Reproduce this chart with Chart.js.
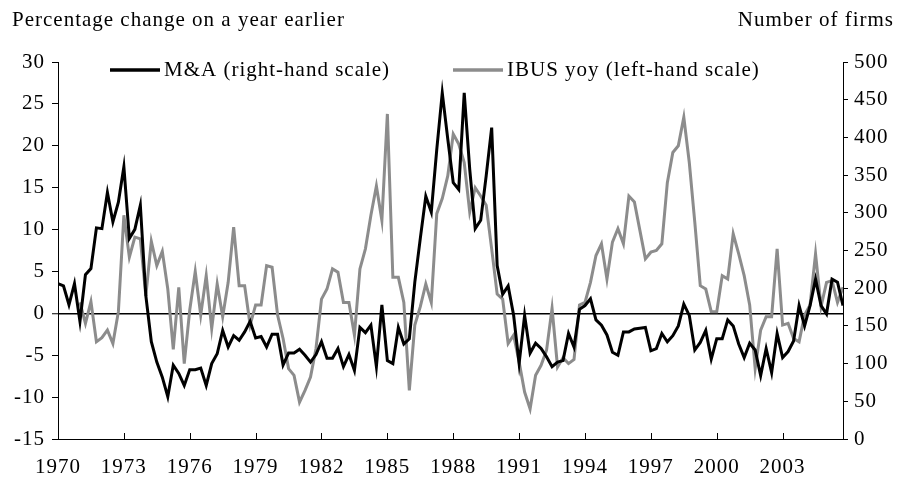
<!DOCTYPE html>
<html><head><meta charset="utf-8">
<script src="https://cdn.jsdelivr.net/npm/chart.js@4.4.1/dist/chart.umd.min.js"></script>
<style>html,body{margin:0;padding:0;background:#fff}#wrap{width:898px;height:487px}</style>
</head><body><div id="wrap"><canvas id="c" width="898" height="487"></canvas></div>
<script>
const startYear = 1970;
const quarters = 144; // 1970Q1 - 2005Q4
const xTickYears = [1970,1973,1976,1979,1982,1985,1988,1991,1994,1997,2000,2003];
const leftTicks = {min:-15, max:30, step:5};
const rightTicks = {min:0, max:500, step:50};

// M&A, number of firms (right-hand scale)
const maFirms = [
206,203,178,206,156,218,226,280,279,327,288,314,361,266,278,310,
190,129,102,82,56,98,87,71,92,92,94,71,100,113,144,122,
137,131,142,156,134,136,122,139,139,98,114,114,119,111,
102,112,129,107,107,120,96,112,91,148,141,151,96,178,104,100,
148,126,133,208,266,322,301,384,459,398,340,331,459,358,279,290,
349,413,230,192,203,164,100,164,114,127,120,109,96,102,104,140,
122,172,177,186,158,151,138,115,111,142,142,146,147,148,117,120,
140,129,137,150,179,164,118,128,144,106,133,133,158,150,126,108,
127,118,84,120,88,140,108,116,130,177,150,177,212,177,166,212,208,177
];

// IBUS, percentage change on a year earlier (left-hand scale)
const ibusYoy = [
null,null,null,null,1.3,-1.2,1.4,-3.4,-2.9,-2.0,-3.6,0.2,11.7,6.7,9.1,8.9,
2.1,8.6,5.7,7.4,2.9,-4.3,3.1,-6.0,0.4,5.0,-0.2,4.5,-1.8,3.5,-0.4,3.7,
10.3,3.3,3.3,-1.4,1.0,1.0,5.7,5.5,-0.2,-3.0,-6.6,-7.4,-10.6,-9.2,-7.6,-4.2,
1.7,2.9,5.3,4.9,1.3,1.3,-2.6,5.3,7.7,11.7,15.2,11.1,23.8,4.3,4.3,1.3,
-9.2,-1.4,0.8,3.5,1.3,11.9,13.7,16.4,21.4,20.2,18.0,12.1,15.0,14.0,12.9,7.7,
2.3,1.7,-3.6,-2.6,-5.8,-9.4,-11.4,-7.4,-6.2,-4.4,0.6,-6.4,-5.3,-6.0,-5.5,1.0,
1.3,3.7,6.9,8.3,4.1,8.5,10.1,8.3,14.0,13.3,9.9,6.5,7.3,7.5,8.3,15.6,
19.2,20.0,23.4,18.0,10.9,3.3,2.9,0.2,0.2,4.5,4.1,9.5,7.1,4.5,1.0,-6.6,
-2.0,-0.4,-0.4,7.7,-1.4,-1.2,-3.0,-3.4,-0.2,1.0,7.1,0.8,3.7,3.9,1.3,3.1
];

const seriesNames = ['M&A (right-hand scale)', 'IBUS yoy (left-hand scale)'];
const leftTitle = 'Percentage change on a year earlier';
const rightTitle = 'Number of firms';

const FONT = 'Liberation Serif, Times New Roman, serif';
const FS = 21;
const LS = '1px';

const toXY = arr => arr.map((v,i)=>({x:i, y:v}));

const xTickValues = xTickYears.map(y => (y - startYear) * 4);

const spacing = {
  id:'spacing',
  beforeDraw(chart){ chart.ctx.letterSpacing = LS; }
};

const overlay = {
  id:'overlay',
  afterDraw(chart){
    const ctx = chart.ctx, xs = chart.scales.x, ca = chart.chartArea;
    ctx.save();
    ctx.letterSpacing = LS;
    // inward tick marks on the x axis
    ctx.strokeStyle = '#000'; ctx.lineWidth = 1;
    xTickValues.forEach(v=>{
      if (v === 0) return;
      const px = Math.round(xs.getPixelForValue(v)) + 0.5;
      ctx.beginPath(); ctx.moveTo(px, ca.bottom); ctx.lineTo(px, ca.bottom - 6); ctx.stroke();
    });
    // axis titles
    ctx.fillStyle = '#000';
    ctx.font = FS + 'px ' + FONT;
    ctx.textBaseline = 'middle';
    ctx.textAlign = 'left';
    ctx.fillText(leftTitle, 12, 20);
    ctx.textAlign = 'right';
    ctx.fillText(rightTitle, 894, 20);
    // legend
    const items = [{x:110, ds:chart.data.datasets[0]}, {x:453, ds:chart.data.datasets[1]}];
    ctx.textAlign = 'left';
    items.forEach(it=>{
      ctx.strokeStyle = it.ds.borderColor; ctx.lineWidth = 3.5;
      ctx.beginPath(); ctx.moveTo(it.x, 70); ctx.lineTo(it.x + 50, 70); ctx.stroke();
      ctx.fillText(it.ds.label, it.x + 54, 70);
    });
    ctx.restore();
  }
};

new Chart(document.getElementById('c'), {
  type:'line',
  data:{
    datasets:[
      {label:seriesNames[0], data:toXY(maFirms), yAxisID:'yR', borderColor:'#000000', borderWidth:3, pointRadius:0, tension:0, spanGaps:false},
      {label:seriesNames[1], data:toXY(ibusYoy), yAxisID:'yL', borderColor:'#8c8c8c', borderWidth:3, pointRadius:0, tension:0, spanGaps:false}
    ]
  },
  options:{
    responsive:false, animation:false, devicePixelRatio:1,
    layout:{padding:{top:62, left:0, right:0, bottom:0}},
    plugins:{legend:{display:false}, tooltip:{enabled:false}},
    scales:{
      x:{type:'linear', min:0, max:quarters-1,
        afterBuildTicks: s => { s.ticks = xTickValues.map(v=>({value:v})); },
        afterFit: s => { s.height = 48; },
        grid:{display:false, drawTicks:false},
        border:{display:true, color:'#000', width:1},
        ticks:{autoSkip:false, maxRotation:0, padding:16, color:'#000', font:{family:FONT, size:FS},
          callback: v => String(startYear + v/4)}
      },
      yL:{position:'left', min:leftTicks.min, max:leftTicks.max,
        afterFit: s => { s.width = 58; },
        ticks:{stepSize:leftTicks.step, padding:7, color:'#000', font:{family:FONT, size:FS}},
        grid:{drawOnChartArea:true, color: c => (c.tick && c.tick.value===0) ? '#000' : 'rgba(0,0,0,0)',
          lineWidth: c => (c.tick && c.tick.value===0) ? 1.5 : 1,
          tickColor:'#000', tickLength:6, tickWidth:1},
        border:{display:true, color:'#000', width:1}
      },
      yR:{position:'right', min:rightTicks.min, max:rightTicks.max,
        afterFit: s => { s.width = 55; },
        ticks:{stepSize:rightTicks.step, padding:6, color:'#000', font:{family:FONT, size:FS}},
        grid:{drawOnChartArea:false, tickColor:'#000', tickLength:5, tickWidth:1},
        border:{display:true, color:'#000', width:1}
      }
    }
  },
  plugins:[spacing, overlay]
});
</script></body></html>
